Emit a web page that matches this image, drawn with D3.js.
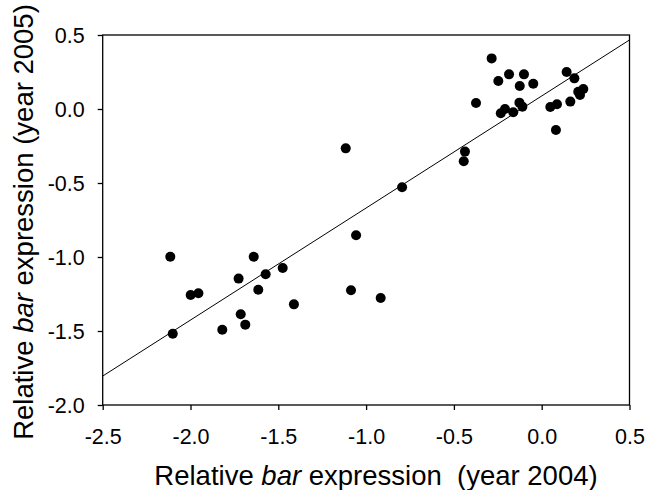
<!DOCTYPE html>
<html>
<head>
<meta charset="utf-8">
<script src="https://cdn.jsdelivr.net/npm/d3@7"></script>
<style>
  body { margin: 0; background: #fff; }
  svg text { font-family: "Liberation Sans", Arial, sans-serif; fill: #000; }
</style>
</head>
<body>
<svg id="scatter"></svg>
<script>
// relative bar expression, year 2004 (x) vs year 2005 (y)
const x2004 = [-1.116, -0.285, -0.186, -0.101, -0.247, -0.125, -0.048, 0.142, 0.186,
  0.208, 0.218, 0.237, -0.374, -0.233, -0.209, -0.162, -0.127, -0.11, 0.049, 0.087,
  0.163, 0.081, -0.437, -0.444, -0.795, -2.115, -2.101, -1.999, -1.955, -1.819,
  -1.726, -1.714, -1.688, -1.64, -1.614, -1.572, -1.475, -1.411, -1.057, -1.086, -0.917];
const y2005 = [-0.266, 0.342, 0.234, 0.234, 0.189, 0.155, 0.171, 0.25, 0.207,
  0.117, 0.095, 0.135, 0.041, -0.029, 0.0, -0.022, 0.043, 0.016, 0.013, 0.032,
  0.05, -0.142, -0.288, -0.353, -0.529, -0.998, -1.518, -1.257, -1.245, -1.491,
  -1.146, -1.387, -1.457, -0.998, -1.221, -1.117, -1.074, -1.32, -0.853, -1.225, -1.277];

// fitted regression line
const fitSlope = 0.757;
const fitIntercept = 0.088;

const xTicks = [-2.5, -2.0, -1.5, -1.0, -0.5, 0.0, 0.5];
const yTicks = [-2.0, -1.5, -1.0, -0.5, 0.0, 0.5];

function makeScatter() {
    let w = 647;
    let h = 490;
    let left = 102.7, top = 35, right = 629.5, bottom = 405;

    let svg = d3.select('#scatter')
        .attr('width', w)
        .attr('height', h);

    let xScale = d3.scaleLinear()
        .domain([-2.5, 0.5])
        .range([left, right]);

    let yScale = d3.scaleLinear()
        .domain([-2.0, 0.5])
        .range([bottom, top]);

    let points = x2004.map((d, i) => ({x: d, y: y2005[i]}));

    // plain hyphen for negatives, like the original figure
    let fmt = (d) => d.toFixed(1);

    // frame
    svg.append('rect')
        .attr('x', left)
        .attr('y', top)
        .attr('width', right - left)
        .attr('height', bottom - top)
        .attr('fill', 'none')
        .attr('stroke', '#000')
        .attr('stroke-width', 1.3);

    let xAxis = d3.axisBottom(xScale)
        .tickValues(xTicks)
        .tickSize(5)
        .tickSizeOuter(0)
        .tickFormat(fmt);

    let yAxis = d3.axisLeft(yScale)
        .tickValues(yTicks)
        .tickSize(5)
        .tickSizeOuter(0)
        .tickFormat(fmt);

    let gx = svg.append('g')
        .attr('transform', `translate(0, ${bottom})`)
        .call(xAxis);
    gx.select('.domain').remove();
    gx.selectAll('line').attr('stroke-width', 1.3);
    gx.selectAll('text')
        .attr('font-size', '21.5px')
        .attr('font-family', 'Liberation Sans, Arial, sans-serif')
        .attr('dy', null)
        .attr('y', 38.5);

    let gy = svg.append('g')
        .attr('transform', `translate(${left}, 0)`)
        .call(yAxis);
    gy.select('.domain').remove();
    gy.selectAll('line').attr('stroke-width', 1.3);
    gy.selectAll('text')
        .attr('font-size', '21.5px')
        .attr('font-family', 'Liberation Sans, Arial, sans-serif')
        .attr('dy', '0.36em')
        .attr('x', -18);

    // regression line
    svg.append('line')
        .attr('x1', xScale(-2.5))
        .attr('y1', yScale(fitSlope * -2.5 + fitIntercept))
        .attr('x2', xScale(0.5))
        .attr('y2', yScale(fitSlope * 0.5 + fitIntercept))
        .attr('stroke', '#000')
        .attr('stroke-width', 1);

    svg.selectAll('circle')
        .data(points)
        .enter()
        .append('circle')
        .attr('cx', (d) => xScale(d.x))
        .attr('cy', (d) => yScale(d.y))
        .attr('r', 5)
        .attr('fill', '#000');

    // axis titles
    let xt = svg.append('text')
        .attr('x', 376)
        .attr('y', 485)
        .attr('text-anchor', 'middle')
        .attr('font-size', '27.5px');
    xt.append('tspan').text('Relative ');
    xt.append('tspan').attr('font-style', 'italic').text('bar');
    xt.append('tspan').text(' expression\u00a0\u00a0(year 2004)');

    let yt = svg.append('text')
        .attr('transform', `translate(33, 222) rotate(-90)`)
        .attr('text-anchor', 'middle')
        .attr('font-size', '27.5px');
    yt.append('tspan').text('Relative ');
    yt.append('tspan').attr('font-style', 'italic').text('bar');
    yt.append('tspan').text(' expression (year 2005)');
}

window.onload = function() {
    makeScatter();
}
</script>
</body>
</html>
